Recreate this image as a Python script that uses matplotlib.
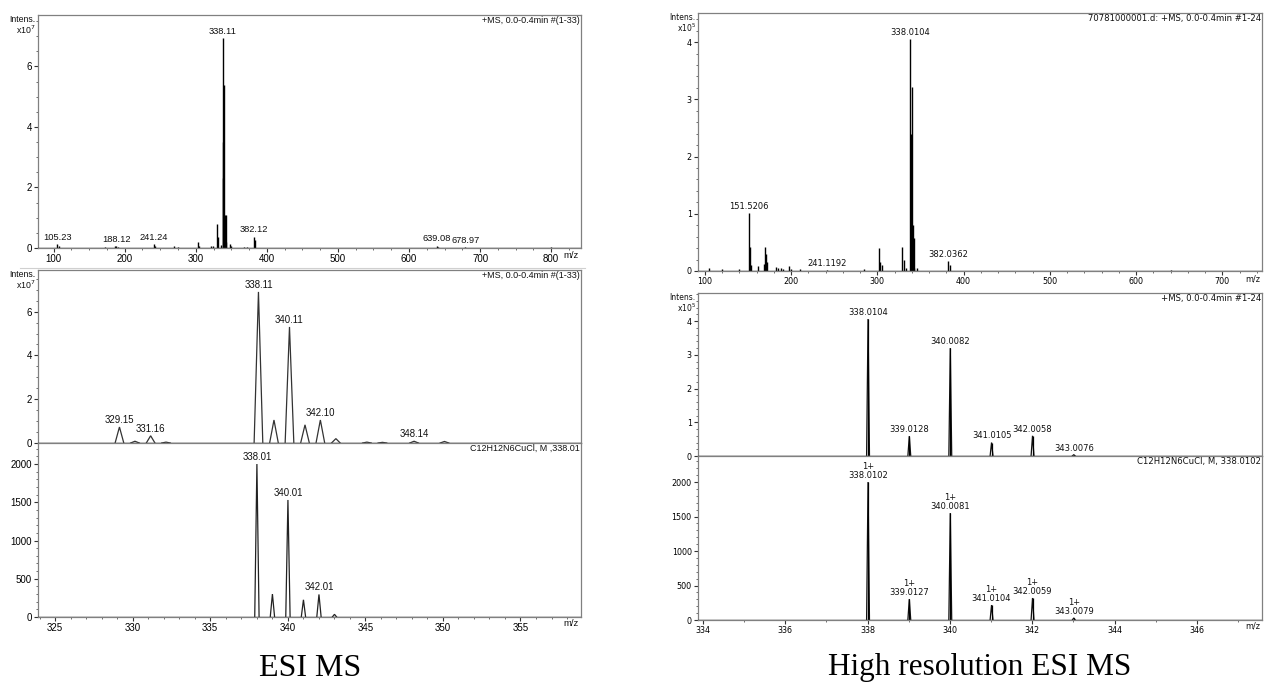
import matplotlib
matplotlib.use("Agg")
import matplotlib.pyplot as plt
from matplotlib.ticker import MultipleLocator
from matplotlib.lines import Line2D

# ---------------- data ----------------
# Left: ESI MS overview (intensity x1e7)
lt_mz = [105.23, 107.0, 172.0, 186.0, 188.12, 190.0, 241.24, 243.0, 270.0, 275.0,
         303.0, 305.0, 322.0, 324.0, 329.15, 331.16, 336.0, 337.9, 338.11, 338.4,
         339.1, 340.11, 341.1, 342.10, 343.1, 348.14, 350.0, 368.0, 372.0, 382.12,
         384.0, 639.08, 641.0, 678.97, 800.0]
lt_int = [0.12, 0.08, 0.03, 0.05, 0.06, 0.04, 0.12, 0.05, 0.06, 0.03,
          0.20, 0.08, 0.05, 0.05, 0.80, 0.38, 0.10, 2.30, 6.95, 3.50,
          1.05, 5.40, 1.10, 1.10, 0.20, 0.12, 0.05, 0.04, 0.03, 0.38,
          0.25, 0.08, 0.04, 0.04, 0.02]
lt_labels = ["105.23", "188.12", "241.24", "338.11", "382.12", "639.08", "678.97"]

# Left: ESI MS zoom, measured (x1e7)
lm_mz = [329.15, 330.15, 331.16, 332.15, 338.11, 339.11, 340.11, 341.11, 342.10,
         343.10, 345.10, 346.10, 348.14, 350.10]
lm_int = [0.73, 0.08, 0.33, 0.04, 6.90, 1.05, 5.30, 0.83, 1.05,
          0.20, 0.04, 0.03, 0.08, 0.07]
lm_labels = ["329.15", "331.16", "338.11", "340.11", "342.10", "348.14"]

# Left: simulated C12H12N6CuCl
lb_mz = [338.01, 339.01, 340.01, 341.01, 342.01, 343.01]
lb_int = [2000, 300, 1530, 225, 295, 35]
lb_labels = ["338.01", "340.01", "342.01"]

# Right: HR ESI MS overview (x1e5)
rt_mz = [105.0, 120.0, 140.0, 151.5206, 152.2, 153.0, 161.0, 168.0, 170.0, 171.0,
         172.0, 183.0, 185.0, 188.0, 190.0, 198.0, 200.0, 210.0, 241.1192, 285.0,
         302.0, 303.5, 305.0, 329.0, 331.0, 333.0, 338.0104, 339.0128, 340.0082,
         341.0105, 342.0058, 343.0, 346.0, 382.0362, 384.0, 640.0]
rt_int = [0.05, 0.04, 0.03, 1.01, 0.42, 0.10, 0.08, 0.12, 0.42, 0.30,
          0.15, 0.07, 0.06, 0.05, 0.04, 0.08, 0.04, 0.03, 0.02, 0.03,
          0.40, 0.15, 0.10, 0.42, 0.20, 0.05, 4.05, 2.40, 3.22,
          0.80, 0.58, 0.05, 0.05, 0.17, 0.10, 0.02]
rt_labels = ["151.5206", "241.1192", "338.0104", "382.0362"]

# Right: HR zoom, measured (x1e5)
rm_mz = [338.0104, 339.0128, 340.0082, 341.0105, 342.0058, 343.0076]
rm_int = [4.06, 0.59, 3.20, 0.40, 0.60, 0.04]
rm_labels = ["338.0104", "339.0128", "340.0082", "341.0105", "342.0058", "343.0076"]

# Right: simulated
rb_mz = [338.0102, 339.0127, 340.0081, 341.0104, 342.0059, 343.0079]
rb_int = [2000, 304, 1550, 217, 319, 30]
rb_labels = ["1+\n338.0102", "1+\n339.0127", "1+\n340.0081", "1+\n341.0104",
             "1+\n342.0059", "1+\n343.0079"]

# ---------------- figure ----------------
W, H = 1264, 698
fig = plt.figure(figsize=(W / 100, H / 100), dpi=100)


def rect(x0, x1, ytop, ybot):
    return [x0 / W, 1 - ybot / H, (x1 - x0) / W, (ybot - ytop) / H]


LF = "Liberation Sans"
RF = "DejaVu Sans"
GRAY = "#808080"


def style(ax, font, size, xmaj, xmin, ymaj, ymin, show_x=True):
    for s in ax.spines.values():
        s.set_color(GRAY)
        s.set_linewidth(0.9)
    ax.xaxis.set_major_locator(MultipleLocator(xmaj))
    ax.xaxis.set_minor_locator(MultipleLocator(xmin))
    ax.yaxis.set_major_locator(MultipleLocator(ymaj))
    ax.yaxis.set_minor_locator(MultipleLocator(ymin))
    ax.tick_params(which="major", direction="out", length=3, width=0.8,
                   color="#333333", labelsize=size, pad=1.5, labelfontfamily=font)
    ax.tick_params(which="minor", direction="out", length=1.5, width=0.6,
                   color="#555555")
    if not show_x:
        ax.tick_params(axis="x", which="both", bottom=False, labelbottom=False)
    ax.axhline(0, color="#222222", lw=1.0, zorder=3)


def header(ax, text, font, size):
    ax.text(0.998, 0.995, text, transform=ax.transAxes, ha="right", va="top",
            fontsize=size, family=font, color="#111111")


def intens(ax, exp, font, size):
    ax.text(-0.004, 1.0, "Intens.\nx10$^{%d}$" % exp, transform=ax.transAxes,
            ha="right", va="top", fontsize=size, family=font, linespacing=0.95,
            color="#111111")


def mz_label(ax, font, size, xpos=0.995):
    ax.text(xpos, -0.012, "m/z", transform=ax.transAxes, ha="right", va="top",
            fontsize=size, family=font, color="#111111")


_fmt = {}


def register(mz, digits):
    for m in mz:
        _fmt[m] = f"{m:.{digits}f}"


def label_peaks(ax, mz, inten, labels, font, size, dy=1.5):
    lookup = {}
    for m, h in zip(mz, inten):
        lookup.setdefault(_fmt[m], (m, h))
    for lab in labels:
        m, h = lookup[lab.split("\n")[-1]]
        ax.annotate(lab, (m, h), xytext=(0, dy), textcoords="offset points",
                    ha="center", va="bottom", fontsize=size, family=font,
                    color="#111111", linespacing=0.95)


def triangles(ax, mz, inten, hw, color, lw):
    for m, h in zip(mz, inten):
        ax.plot([m - hw, m, m + hw], [0, h, 0], color=color, lw=lw,
                solid_joinstyle="miter", zorder=2)


# ---- left top ----
ax1 = fig.add_axes(rect(38, 581, 15, 248))
ax1.vlines(lt_mz, 0, lt_int, color="black", lw=1.0)
ax1.set_xlim(78, 842)
ax1.set_ylim(0, 7.7)
style(ax1, LF, 7, 100, 25, 2, 0.5)
register(lt_mz, 2)
label_peaks(ax1, lt_mz, lt_int, lt_labels, LF, 6.7)
header(ax1, "+MS, 0.0-0.4min #(1-33)", LF, 6.5)
intens(ax1, 7, LF, 6.3)
mz_label(ax1, LF, 6.8)

# ---- left middle ----
ax2 = fig.add_axes(rect(38, 581, 270, 443))
triangles(ax2, lm_mz, lm_int, 0.28, "#333333", 0.9)
ax2.set_xlim(323.9, 358.9)
ax2.set_ylim(0, 7.9)
style(ax2, LF, 7, 5, 1, 2, 0.5, show_x=False)
register(lm_mz, 2)
label_peaks(ax2, lm_mz, lm_int, lm_labels, LF, 6.9)
header(ax2, "+MS, 0.0-0.4min #(1-33)", LF, 6.5)
intens(ax2, 7, LF, 6.3)

# ---- left bottom ----
ax3 = fig.add_axes(rect(38, 581, 443, 617))
triangles(ax3, lb_mz, lb_int, 0.14, "#222222", 0.9)
ax3.set_xlim(323.9, 358.9)
ax3.set_ylim(0, 2275)
style(ax3, LF, 7, 5, 1, 500, 100)
register(lb_mz, 2)
label_peaks(ax3, lb_mz, lb_int, lb_labels, LF, 6.9)
header(ax3, "C12H12N6CuCl, M ,338.01", LF, 6.5)
mz_label(ax3, LF, 6.8)

# ---- right top ----
ax4 = fig.add_axes(rect(698, 1262, 13, 271))
ax4.vlines(rt_mz, 0, rt_int, color="black", lw=1.0)
ax4.set_xlim(92, 746)
ax4.set_ylim(0, 4.51)
style(ax4, RF, 5.8, 100, 20, 1, 0.2)
register(rt_mz, 4)
label_peaks(ax4, rt_mz, rt_int, rt_labels, RF, 6)
header(ax4, "70781000001.d: +MS, 0.0-0.4min #1-24", RF, 6.1)
intens(ax4, 5, RF, 5.5)
mz_label(ax4, RF, 5.8, 0.997)

# ---- right middle ----
ax5 = fig.add_axes(rect(698, 1262, 293, 456))
triangles(ax5, rm_mz, rm_int, 0.035, "#111111", 0.9)
ax5.vlines(rm_mz, 0, rm_int, color="black", lw=0.9)
ax5.set_xlim(333.88, 347.58)
ax5.set_ylim(0, 4.83)
style(ax5, RF, 5.8, 2, 1, 1, 0.2, show_x=False)
register(rm_mz, 4)
label_peaks(ax5, rm_mz, rm_int, rm_labels, RF, 6)
header(ax5, "+MS, 0.0-0.4min #1-24", RF, 6.1)
intens(ax5, 5, RF, 5.5)

# ---- right bottom ----
ax6 = fig.add_axes(rect(698, 1262, 456, 620))
triangles(ax6, rb_mz, rb_int, 0.035, "#111111", 0.9)
ax6.vlines(rb_mz, 0, rb_int, color="black", lw=0.9)
ax6.set_xlim(333.88, 347.58)
ax6.set_ylim(0, 2377)
style(ax6, RF, 5.8, 2, 1, 500, 100)
register(rb_mz, 4)
label_peaks(ax6, rb_mz, rb_int, rb_labels, RF, 6)
header(ax6, "C12H12N6CuCl, M, 338.0102", RF, 6.1)
mz_label(ax6, RF, 5.8, 0.997)

# light separator line of the left instrument panel
fig.add_artist(Line2D([20 / W, 585 / W], [1 - 268 / H, 1 - 268 / H],
                      color="#d0d0d0", lw=0.8))

# captions
fig.text(310 / W, 1 - 668 / H, "ESI MS", ha="center", va="center",
         family="Liberation Serif", fontsize=23)
fig.text(980 / W, 1 - 668 / H, "High resolution ESI MS", ha="center",
         va="center", family="Liberation Serif", fontsize=22.5)

fig.savefig("out.png", dpi=100)
